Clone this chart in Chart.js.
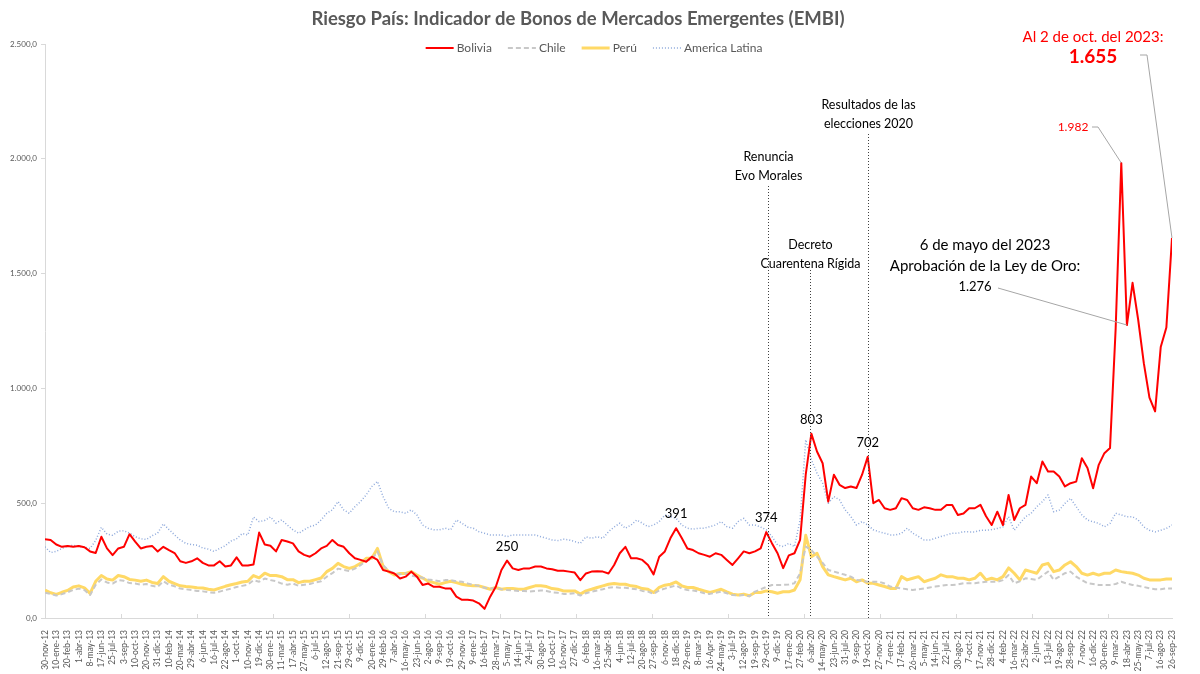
<!DOCTYPE html>
<html lang="es">
<head>
<meta charset="utf-8">
<title>Riesgo País EMBI</title>
<script src="https://cdn.jsdelivr.net/npm/chart.js@4.4.0/dist/chart.umd.min.js"></script>
<style>
  html, body { margin: 0; padding: 0; background: #ffffff; }
</style>
</head>
<body>
<canvas id="embiChart" width="1200" height="674"></canvas>
<script>
// Etiquetas del eje X (una cada 2 puntos de la serie)
const etiquetas = ['30-nov-12','10-ene-13','20-feb-13','1-abr-13','8-may-13','17-jun-13','25-jul-13','3-sep-13','10-oct-13','20-nov-13',
  '31-dic-13','10-feb-14','20-mar-14','29-abr-14','6-jun-14','16-jul-14','22-ago-14','1-oct-14','10-nov-14','19-dic-14',
  '30-ene-15','11-mar-15','17-abr-15','27-may-15','6-jul-15','12-ago-15','21-sep-15','29-oct-15','9-dic-15','20-ene-16',
  '29-feb-16','7-abr-16','16-may-16','23-jun-16','2-ago-16','9-sep-16','19-oct-16','29-nov-16','9-ene-17','16-feb-17',
  '28-mar-17','5-may-17','14-jun-17','24-jul-17','30-ago-17','10-oct-17','16-nov-17','27-dic-17','6-feb-18','16-mar-18',
  '25-abr-18','4-jun-18','12-jul-18','20-ago-18','27-sep-18','6-nov-18','18-dic-18','29-ene-19','8-mar-19','16-Apr-19',
  '24-may-19','3-jul-19','12-ago-19','19-sep-19','29-oct-19','9-dic-19','17-ene-20','27-feb-20','6-abr-20','14-may-20',
  '23-jun-20','31-jul-20','9-sep-20','19-oct-20','27-nov-20','7-ene-21','17-feb-21','26-mar-21','5-may-21','14-jun-21',
  '22-jul-21','30-ago-21','7-oct-21','17-nov-21','28-dic-21','4-feb-22','16-mar-22','25-abr-22','2-jun-22','13-jul-22',
  '19-ago-22','28-sep-22','7-nov-22','16-dic-22','30-ene-23','9-mar-23','18-abr-23','25-may-23','7-jul-23','16-ago-23',
  '26-sep-23'];

// Series (puntos básicos): un valor cada media etiqueta
const bolivia = [343,340,320,310,314,310,314,308,290,283,
  354,303,274,303,310,365,333,303,310,314,
  290,310,296,283,247,240,247,260,240,229,
  229,247,224,229,264,229,229,233,372,320,
  315,290,340,333,325,290,275,267,282,303,
  314,340,318,310,282,260,253,245,267,253,
  209,202,194,172,180,202,180,144,150,136,
  136,129,129,93,79,79,76,64,40,93,
  136,209,250,216,209,216,216,224,224,216,
  212,206,206,202,198,165,194,202,204,202,
  194,231,282,310,260,260,253,231,190,267,
  290,348,391,348,303,296,282,275,267,282,
  275,253,231,260,290,282,290,303,374,326,
  282,217,273,282,340,624,803,725,674,507,
  624,580,566,573,566,624,702,500,514,478,
  471,478,522,514,478,471,482,478,471,471,
  492,492,449,455,478,478,493,443,405,463,
  405,536,427,478,493,616,587,682,638,638,
  616,573,587,594,696,653,565,667,718,740,
  1260,1982,1276,1460,1299,1110,960,900,1180,1265,1655];

const chile = [110,105,98,104,112,122,128,122,100,145,
  168,155,150,165,162,152,150,145,148,140,
  136,160,145,138,128,125,122,118,116,112,
  110,115,122,128,135,140,145,165,158,172,
  165,160,150,145,150,140,145,148,155,160,
  180,195,215,210,205,215,230,250,255,290,
  230,205,195,190,195,185,180,175,168,165,
  160,165,165,160,158,150,145,140,132,128,
  130,125,122,120,118,118,115,118,120,118,
  112,110,105,105,108,98,108,115,120,125,
  132,135,132,132,128,125,118,115,105,120,
  128,135,142,128,122,120,115,108,105,110,
  115,108,100,98,100,95,115,125,135,144,
  144,144,146,151,195,311,296,267,240,209,
  202,195,188,180,166,162,158,158,158,150,
  137,133,129,125,122,125,129,133,137,140,
  144,144,146,151,151,151,155,158,158,158,
  165,187,151,160,173,170,166,185,202,166,
  180,195,202,180,165,151,148,144,144,144,
  148,158,150,144,140,135,129,125,125,129,129];

const peru = [122,110,103,112,120,135,140,131,107,160,
  185,170,165,185,180,168,165,160,165,155,
  150,180,160,150,140,137,135,132,131,125,
  122,130,138,145,150,157,160,185,175,195,
  185,185,180,167,167,154,160,160,167,174,
  202,216,238,224,216,224,238,260,260,303,
  224,202,187,194,194,202,187,174,160,154,
  147,154,160,154,147,143,140,140,133,125,
  133,125,128,128,125,125,133,140,140,137,
  128,125,118,118,118,104,118,125,133,140,
  147,150,147,147,140,137,128,125,111,133,
  143,147,157,140,133,133,125,118,111,118,
  125,114,104,100,104,97,111,111,118,114,
  108,114,114,122,166,360,267,282,224,188,
  180,173,166,173,158,166,151,151,144,137,
  129,129,180,166,173,180,158,166,173,188,
  180,180,173,173,166,173,195,166,173,166,
  180,218,195,166,209,202,195,231,238,202,
  209,231,245,224,195,187,195,187,195,195,
  209,202,198,195,187,173,166,166,166,170,170];

const americaLatina = [310,285,290,303,312,317,312,308,303,338,
  395,365,360,378,380,370,354,345,342,358,
  370,410,385,362,340,325,320,317,305,300,
  290,303,315,335,345,368,362,440,420,425,
  440,413,427,405,384,369,384,398,405,427,
  456,471,507,471,456,485,507,536,573,595,
  529,478,463,463,456,471,449,405,391,384,
  384,391,384,427,413,396,391,376,369,362,
  362,362,354,362,362,362,362,362,354,347,
  340,337,343,340,333,325,354,347,354,347,
  376,396,413,391,405,427,413,398,405,420,
  449,442,434,405,391,387,391,391,398,405,
  420,398,391,420,434,405,405,396,384,355,
  318,311,325,311,427,776,689,631,587,500,
  529,514,471,442,405,420,405,384,376,369,
  362,362,369,391,369,355,340,340,347,355,
  362,369,369,376,375,375,382,382,385,390,
  397,441,382,412,441,456,485,507,536,463,
  470,499,521,485,449,427,419,412,397,412,
  456,449,441,441,427,397,382,375,382,390,405];

const FUENTE = 'Lato, "Open Sans", sans-serif';
const GRIS = '#595959';

// Formato 2.500,0
function formatoMiles(v) {
  const entero = Math.round(v).toString().replace(/\B(?=(\d{3})+(?!\d))/g, '.');
  return entero + ',0';
}

function aPuntos(serie) {
  return serie.map((v, i) => ({ x: i, y: v }));
}

// Titulo, leyenda, eventos y etiquetas dibujados sobre el gráfico
const anotaciones = {
  id: 'anotaciones',
  afterDatasetsDraw(chart) {
    const { ctx, chartArea, scales: { x, y } } = chart;
    ctx.save();

    function texto(t, px, py, size, color, bold, align) {
      ctx.font = (bold ? 'bold ' : '') + size + 'px ' + FUENTE;
      ctx.fillStyle = color;
      ctx.textAlign = align || 'center';
      ctx.textBaseline = 'middle';
      ctx.fillText(t, px, py);
    }

    // marcas del eje X
    ctx.strokeStyle = '#d9d9d9';
    ctx.lineWidth = 1;
    for (let k = 0; k <= 200; k += 13.47) {
      const px = Math.round(x.getPixelForValue(k)) + 0.5;
      ctx.beginPath();
      ctx.moveTo(px, chartArea.bottom);
      ctx.lineTo(px, chartArea.bottom - 4);
      ctx.stroke();
    }

    // título
    texto('Riesgo País: Indicador de Bonos de Mercados Emergentes (EMBI)', 578, 19, 18.5, GRIS, true);

    // leyenda
    const tamLeyenda = 12;
    ctx.font = tamLeyenda + 'px ' + FUENTE;
    const items = chart.data.datasets;
    const muestra = 28, sep = 3, hueco = 16;
    let total = 0;
    items.forEach((d, i) => {
      total += muestra + sep + ctx.measureText(d.label).width + (i < items.length - 1 ? hueco : 0);
    });
    let lx = 594 - total / 2;
    const ly = 48;
    items.forEach(d => {
      ctx.beginPath();
      ctx.setLineDash(d.borderDash || []);
      ctx.strokeStyle = d.borderColor;
      ctx.lineWidth = d.borderWidth;
      ctx.moveTo(lx, ly);
      ctx.lineTo(lx + muestra, ly);
      ctx.stroke();
      ctx.setLineDash([]);
      lx += muestra + sep;
      texto(d.label, lx, ly, tamLeyenda, GRIS, false, 'left');
      ctx.font = tamLeyenda + 'px ' + FUENTE;
      lx += ctx.measureText(d.label).width + hueco;
    });

    // eventos con línea vertical punteada
    const eventos = [
      { k: 128.3, lineas: ['Renuncia', 'Evo Morales'], yTexto: 157, yLinea: 186 },
      { k: 135.8, lineas: ['Decreto', 'Cuarentena Rígida'], yTexto: 245, yLinea: 270 },
      { k: 146.0, lineas: ['Resultados de las', 'elecciones 2020'], yTexto: 105, yLinea: 134 }
    ];
    eventos.forEach(e => {
      const px = Math.round(x.getPixelForValue(e.k)) + 0.5;
      ctx.beginPath();
      ctx.setLineDash([1, 2]);
      ctx.strokeStyle = '#404040';
      ctx.lineWidth = 1;
      ctx.moveTo(px, e.yLinea);
      ctx.lineTo(px, chartArea.bottom);
      ctx.stroke();
      ctx.setLineDash([]);
      e.lineas.forEach((t, j) => texto(t, px, e.yTexto + j * 19, 12.5, '#000000'));
    });

    // etiquetas de datos de Bolivia
    [82, 112, 128, 136, 146].forEach(k => {
      texto(String(bolivia[k]), x.getPixelForValue(k), y.getPixelForValue(bolivia[k]) - 14, 13, '#000000');
    });

    // líneas guía
    function guia(puntos) {
      ctx.beginPath();
      ctx.strokeStyle = '#a6a6a6';
      ctx.lineWidth = 1;
      ctx.moveTo(puntos[0][0], puntos[0][1]);
      puntos.slice(1).forEach(p => ctx.lineTo(p[0], p[1]));
      ctx.stroke();
    }
    const fmt = v => formatoMiles(v).replace(',0', '');

    texto('6 de mayo del 2023', 985, 245, 15, '#000000');
    texto('Aprobación de la Ley de Oro:', 985, 266, 15, '#000000');
    texto(fmt(bolivia[192]), 975, 287, 13, '#000000');
    guia([[998, 288], [x.getPixelForValue(192), y.getPixelForValue(bolivia[192])]]);

    texto(fmt(bolivia[191]), 1073, 127, 12, '#ff0000');
    guia([[1092, 127], [1098, 127], [x.getPixelForValue(191), y.getPixelForValue(bolivia[191])]]);

    texto('Al 2 de oct. del 2023:', 1093, 37, 15, '#ff0000');
    texto(fmt(bolivia[200]), 1093, 57, 19, '#ff0000', true);
    guia([[1140, 55], [1147, 55], [x.getPixelForValue(200), y.getPixelForValue(bolivia[200])]]);

    ctx.restore();
  }
};

const ctx = document.getElementById('embiChart').getContext('2d');
const chart = new Chart(ctx, {
  type: 'line',
  data: {
    datasets: [
      { label: 'Bolivia', data: aPuntos(bolivia), borderColor: '#ff0000', borderWidth: 2 },
      { label: 'Chile', data: aPuntos(chile), borderColor: '#c8c8c8', borderWidth: 2, borderDash: [5, 3] },
      { label: 'Perú', data: aPuntos(peru), borderColor: '#ffd966', borderWidth: 3 },
      { label: 'America Latina', data: aPuntos(americaLatina), borderColor: '#8ea9db', borderWidth: 1.5, borderDash: [1, 2] }
    ]
  },
  options: {
    responsive: false,
    animation: false,
    devicePixelRatio: 1,
    layout: { padding: { top: 44, right: 28, left: 0, bottom: 0 } },
    elements: {
      point: { radius: 0 },
      line: { tension: 0, borderJoinStyle: 'round' }
    },
    plugins: {
      legend: { display: false },
      title: { display: false },
      tooltip: { enabled: false }
    },
    scales: {
      x: {
        type: 'linear',
        min: 0,
        max: 200,
        afterFit: s => { s.height = 56; },
        grid: { display: false },
        border: { color: '#d9d9d9' },
        ticks: {
          stepSize: 2,
          maxTicksLimit: 200,
          autoSkip: false,
          maxRotation: 90,
          minRotation: 90,
          padding: 4,
          color: GRIS,
          font: { family: FUENTE, size: 8.5 },
          callback: v => etiquetas[v / 2]
        }
      },
      y: {
        min: 0,
        max: 2500,
        afterFit: s => { s.width = 45; },
        grid: { drawOnChartArea: false, tickLength: 4, color: '#d9d9d9' },
        border: { color: '#d9d9d9' },
        ticks: {
          stepSize: 500,
          padding: 4,
          color: GRIS,
          font: { family: FUENTE, size: 8 },
          callback: v => formatoMiles(v)
        }
      }
    }
  },
  plugins: [anotaciones]
});
</script>
</body>
</html>
